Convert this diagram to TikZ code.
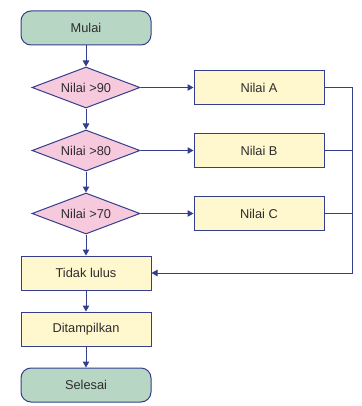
\documentclass[tikz,border=0pt]{standalone}
\usepackage{fontspec}
\setmainfont{Liberation Sans}
\usetikzlibrary{shapes.geometric, positioning, arrows.meta, calc}

\definecolor{garis}{RGB}{52,62,140}
\definecolor{teks}{RGB}{45,45,45}
\definecolor{hijau}{RGB}{184,214,196}
\definecolor{kuning}{RGB}{255,247,206}
\definecolor{merahmuda}{RGB}{247,201,221}

\begin{document}
\begin{tikzpicture}[
  x=1pt, y=1pt,
  font=\fontsize{12.8}{15}\selectfont,
  >={Triangle[width=6.5pt,length=6pt]},
  line width=1pt,
  draw=garis, text=teks,
  terminal/.style={draw=garis, fill=hijau, rounded corners=10pt, minimum width=130pt, minimum height=34pt, align=center},
  proses/.style={draw=garis, fill=kuning, minimum width=130pt, minimum height=34pt, align=center},
  keputusan/.style={draw=garis, fill=merahmuda, diamond, aspect=2.6, inner sep=0pt, minimum width=108pt, minimum height=41pt},
  alur/.style={draw=garis, ->}
]
  \useasboundingbox (0,0) rectangle (361,-406);

  \node[terminal] (mulai) at (86,-28) {Mulai};

  \node[keputusan, below=21pt of mulai] (cek90) {Nilai >90};
  \node[keputusan, below=21pt of cek90] (cek80) {Nilai >80};
  \node[keputusan, below=21pt of cek80] (cek70) {Nilai >70};

  \node[proses, right=53pt of cek90] (nilaiA) {Nilai A};
  \node[proses, right=53pt of cek80] (nilaiB) {Nilai B};
  \node[proses, right=53pt of cek70] (nilaiC) {Nilai C};

  \node[proses, below=21pt of cek70] (tidak) {Tidak lulus};
  \node[proses, below=21pt of tidak] (tampil) {Ditampilkan};
  \node[terminal, below=21pt of tampil] (selesai) {Selesai};

  \coordinate (gabung) at ($(nilaiA.east)+(28pt,0)$);

  \draw[alur] (mulai) -- (cek90);
  \draw[alur] (cek90) -- (cek80);
  \draw[alur] (cek80) -- (cek70);
  \draw[alur] (cek70) -- (tidak);
  \draw[alur] (tidak) -- (tampil);
  \draw[alur] (tampil) -- (selesai);

  \draw[alur] (cek90.east) -- (nilaiA.west);
  \draw[alur] (cek80.east) -- (nilaiB.west);
  \draw[alur] (cek70.east) -- (nilaiC.west);

  \draw[alur] (nilaiA.east) -- (gabung) |- (tidak.east);
  \draw[draw=garis] (nilaiB.east) -- (nilaiB.east -| gabung);
  \draw[draw=garis] (nilaiC.east) -- (nilaiC.east -| gabung);
\end{tikzpicture}
\end{document}
